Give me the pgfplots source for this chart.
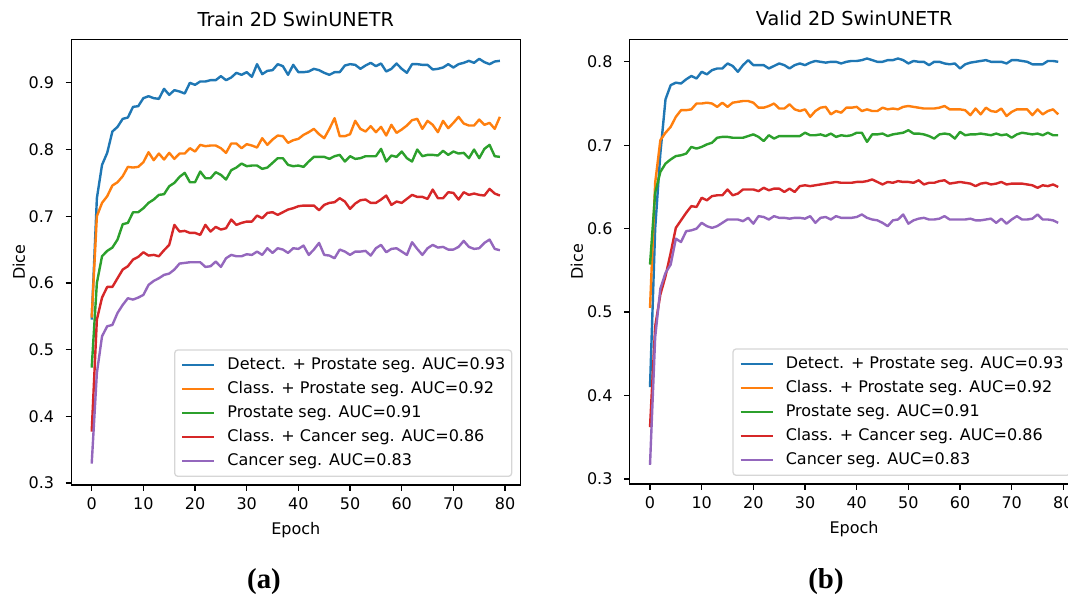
\documentclass[border=0pt]{standalone}
\usepackage{fontspec}
\setmainfont{DejaVu Sans}
\newfontfamily\capfont{Liberation Serif}
\usepackage{pgfplots}
\usepackage{pgfplotstable}
\pgfplotsset{compat=1.18}

\definecolor{c0}{HTML}{1F77B4}
\definecolor{c1}{HTML}{FF7F0E}
\definecolor{c2}{HTML}{2CA02C}
\definecolor{c3}{HTML}{D62728}
\definecolor{c4}{HTML}{9467BD}

% train curves: epoch, detect+prostate, class+prostate, prostate, class+cancer, cancer
\pgfplotstableread{
e det cls pro ccs can
0 0.545 0.548 0.473 0.377 0.329
1 0.727 0.700 0.600 0.545 0.465
2 0.777 0.720 0.640 0.578 0.520
3 0.795 0.730 0.648 0.594 0.535
4 0.827 0.746 0.653 0.594 0.537
5 0.834 0.751 0.665 0.607 0.555
6 0.846 0.760 0.688 0.620 0.567
7 0.848 0.774 0.690 0.625 0.577
8 0.864 0.773 0.706 0.635 0.575
9 0.865 0.774 0.706 0.639 0.578
10 0.877 0.781 0.712 0.646 0.582
11 0.880 0.796 0.720 0.641 0.597
12 0.877 0.784 0.725 0.642 0.603
13 0.876 0.794 0.732 0.640 0.607
14 0.891 0.785 0.733 0.649 0.612
15 0.882 0.795 0.745 0.657 0.614
16 0.889 0.786 0.750 0.687 0.620
17 0.887 0.794 0.759 0.677 0.629
18 0.884 0.794 0.765 0.678 0.630
19 0.900 0.802 0.751 0.675 0.631
20 0.897 0.797 0.751 0.675 0.631
21 0.902 0.807 0.767 0.672 0.631
22 0.902 0.805 0.757 0.687 0.624
23 0.904 0.806 0.757 0.677 0.625
24 0.904 0.806 0.766 0.684 0.632
25 0.910 0.802 0.762 0.680 0.624
26 0.904 0.795 0.755 0.682 0.637
27 0.908 0.809 0.769 0.695 0.642
28 0.915 0.809 0.773 0.687 0.640
29 0.912 0.802 0.779 0.690 0.640
30 0.916 0.808 0.775 0.692 0.643
31 0.909 0.806 0.776 0.692 0.642
32 0.928 0.803 0.776 0.701 0.647
33 0.913 0.817 0.771 0.697 0.642
34 0.918 0.807 0.773 0.705 0.652
35 0.919 0.815 0.780 0.706 0.645
36 0.928 0.821 0.787 0.702 0.652
37 0.925 0.820 0.787 0.706 0.650
38 0.912 0.810 0.777 0.710 0.645
39 0.927 0.814 0.775 0.712 0.652
40 0.916 0.816 0.776 0.715 0.651
41 0.916 0.822 0.774 0.716 0.656
42 0.917 0.826 0.782 0.716 0.642
43 0.921 0.831 0.789 0.716 0.650
44 0.919 0.823 0.789 0.709 0.660
45 0.915 0.817 0.789 0.717 0.642
46 0.912 0.831 0.786 0.720 0.641
47 0.916 0.847 0.790 0.721 0.637
48 0.916 0.820 0.792 0.727 0.650
49 0.926 0.820 0.782 0.722 0.647
50 0.928 0.823 0.790 0.711 0.642
51 0.927 0.843 0.786 0.719 0.647
52 0.921 0.831 0.787 0.724 0.647
53 0.926 0.827 0.790 0.725 0.648
54 0.930 0.835 0.790 0.720 0.641
55 0.925 0.826 0.790 0.720 0.652
56 0.929 0.834 0.801 0.725 0.657
57 0.917 0.821 0.782 0.731 0.646
58 0.921 0.837 0.791 0.717 0.651
59 0.929 0.825 0.789 0.722 0.652
60 0.921 0.830 0.797 0.720 0.647
61 0.915 0.836 0.787 0.726 0.642
62 0.928 0.844 0.782 0.732 0.661
63 0.928 0.846 0.800 0.729 0.651
64 0.927 0.831 0.790 0.729 0.642
65 0.927 0.843 0.792 0.726 0.652
66 0.920 0.837 0.792 0.740 0.657
67 0.921 0.826 0.791 0.727 0.653
68 0.923 0.843 0.798 0.727 0.654
69 0.928 0.832 0.792 0.736 0.650
70 0.923 0.840 0.797 0.735 0.650
71 0.928 0.849 0.794 0.725 0.654
72 0.930 0.839 0.795 0.736 0.663
73 0.933 0.836 0.787 0.732 0.654
74 0.930 0.836 0.800 0.734 0.651
75 0.936 0.845 0.787 0.732 0.652
76 0.931 0.837 0.801 0.731 0.660
77 0.928 0.840 0.807 0.741 0.665
78 0.932 0.831 0.790 0.734 0.651
79 0.933 0.849 0.789 0.731 0.649
}\traintab

% validation curves, same columns
\pgfplotstableread{
e det cls pro ccs can
0 0.410 0.505 0.557 0.362 0.317
1 0.600 0.655 0.643 0.483 0.470
2 0.690 0.706 0.668 0.521 0.528
3 0.755 0.715 0.678 0.543 0.547
4 0.772 0.722 0.683 0.571 0.557
5 0.775 0.734 0.687 0.601 0.588
6 0.774 0.742 0.688 0.610 0.584
7 0.779 0.742 0.690 0.619 0.597
8 0.783 0.743 0.698 0.627 0.598
9 0.780 0.750 0.696 0.626 0.600
10 0.788 0.750 0.698 0.637 0.607
11 0.785 0.751 0.701 0.634 0.603
12 0.790 0.750 0.703 0.639 0.601
13 0.792 0.746 0.709 0.640 0.603
14 0.792 0.751 0.710 0.640 0.607
15 0.798 0.746 0.710 0.647 0.611
16 0.795 0.751 0.709 0.640 0.611
17 0.788 0.752 0.709 0.642 0.611
18 0.796 0.753 0.709 0.647 0.609
19 0.802 0.753 0.711 0.647 0.613
20 0.796 0.751 0.713 0.647 0.606
21 0.796 0.745 0.710 0.645 0.615
22 0.796 0.745 0.705 0.649 0.614
23 0.792 0.747 0.712 0.646 0.611
24 0.795 0.750 0.708 0.648 0.615
25 0.798 0.744 0.711 0.648 0.613
26 0.796 0.744 0.711 0.644 0.613
27 0.792 0.749 0.711 0.648 0.612
28 0.796 0.743 0.711 0.644 0.613
29 0.798 0.741 0.711 0.651 0.613
30 0.796 0.743 0.715 0.652 0.612
31 0.799 0.734 0.712 0.651 0.615
32 0.801 0.741 0.712 0.652 0.607
33 0.800 0.745 0.713 0.653 0.613
34 0.799 0.746 0.711 0.654 0.614
35 0.800 0.737 0.714 0.655 0.611
36 0.800 0.741 0.710 0.656 0.615
37 0.798 0.739 0.712 0.655 0.613
38 0.800 0.745 0.711 0.655 0.613
39 0.801 0.745 0.712 0.655 0.613
40 0.801 0.746 0.715 0.656 0.614
41 0.802 0.741 0.715 0.656 0.617
42 0.804 0.743 0.704 0.657 0.613
43 0.802 0.741 0.713 0.659 0.611
44 0.800 0.741 0.713 0.656 0.610
45 0.800 0.745 0.714 0.653 0.607
46 0.802 0.743 0.711 0.656 0.603
47 0.802 0.744 0.713 0.655 0.610
48 0.804 0.743 0.714 0.657 0.611
49 0.802 0.746 0.715 0.656 0.617
50 0.798 0.747 0.718 0.656 0.606
51 0.801 0.746 0.714 0.655 0.610
52 0.800 0.745 0.714 0.658 0.612
53 0.800 0.744 0.713 0.653 0.613
54 0.796 0.744 0.711 0.655 0.611
55 0.800 0.744 0.708 0.655 0.611
56 0.800 0.745 0.713 0.657 0.612
57 0.798 0.747 0.714 0.658 0.615
58 0.797 0.743 0.713 0.654 0.611
59 0.798 0.743 0.708 0.655 0.611
60 0.792 0.743 0.716 0.656 0.611
61 0.797 0.742 0.712 0.655 0.611
62 0.799 0.736 0.713 0.654 0.612
63 0.800 0.744 0.713 0.651 0.610
64 0.801 0.737 0.714 0.654 0.610
65 0.802 0.745 0.713 0.655 0.611
66 0.800 0.741 0.712 0.653 0.612
67 0.800 0.740 0.714 0.654 0.607
68 0.800 0.744 0.712 0.656 0.612
69 0.798 0.735 0.713 0.653 0.606
70 0.802 0.740 0.709 0.654 0.611
71 0.802 0.743 0.713 0.654 0.615
72 0.801 0.743 0.715 0.654 0.611
73 0.800 0.743 0.714 0.653 0.611
74 0.797 0.736 0.713 0.652 0.612
75 0.797 0.743 0.714 0.649 0.617
76 0.797 0.737 0.712 0.652 0.611
77 0.801 0.741 0.715 0.651 0.611
78 0.801 0.743 0.712 0.653 0.610
79 0.800 0.737 0.712 0.650 0.607
}\validtab

\pgfplotsset{
  swin/.style={
    scale only axis, width=280.63pt, anchor=south west,
    xmin=-3.95, xmax=82.95,
    xtick={0,10,20,30,40,50,60,70,80},
    axis line style={line width=0.8pt, black},
    tick style={line width=0.8pt, black},
    major tick length=3.5pt,
    tick align=outside, tick pos=left,
    tick label style={font=\fontsize{10}{12}\selectfont},
    /pgf/number format/assume math mode=true,
    yticklabel style={/pgf/number format/fixed, /pgf/number format/precision=1,
                      anchor=east, inner sep=0pt, xshift=-7pt},
    xticklabel style={anchor=north, inner sep=0pt, yshift=-4.5pt},
    title style={font=\fontsize{12}{14}\selectfont, at={(0.5,1)}, anchor=base, yshift=2.3pt},
    xlabel={Epoch}, ylabel={Dice},
    label style={font=\fontsize{10}{12}\selectfont},
    xlabel style={at={(axis description cs:0.5,0)}, anchor=base, yshift=-31pt},
    every axis plot/.append style={line width=1.5pt, line join=round, no markers},
    legend cell align=left,
    legend image code/.code={\draw[#1] (0pt,0pt) -- (20pt,0pt);},
    legend style={at={(1,0)}, anchor=south east, xshift=-5pt, yshift=5pt,
      font=\fontsize{10}{12}\selectfont,
      draw={rgb,255:red,214;green,214;blue,214}, line width=0.8pt,
      fill=white, fill opacity=0.8, text opacity=1, rounded corners=2pt,
      inner xsep=4pt, inner ysep=4.5pt, row sep=5pt,
      nodes={inner sep=0pt, text height=7.5pt, text depth=2.5pt},
      /tikz/column 2/.style={column sep=0pt},
      /tikz/every odd column/.style={column sep=7.5pt}},
  }
}

\begin{document}
\begin{tikzpicture}
\useasboundingbox (0,0) rectangle (667.5pt,373.125pt);

\begin{axis}[swin, at={(44.56pt,70pt)}, height=278.44pt,
  ymin=0.297, ymax=0.965, ytick={0.3,0.4,0.5,0.6,0.7,0.8,0.9},
  title={Train 2D SwinUNETR},
  ylabel style={at={(axis description cs:-0.1035,0.5)}, anchor=base}]
\addplot[c0] table[x=e, y=det] {\traintab};
\addplot[c1] table[x=e, y=cls] {\traintab};
\addplot[c2] table[x=e, y=pro] {\traintab};
\addplot[c3] table[x=e, y=ccs] {\traintab};
\addplot[c4] table[x=e, y=can] {\traintab};
\legend{Detect. + Prostate seg. AUC=0.93, Class. + Prostate seg. AUC=0.92,
  Prostate seg. AUC=0.91, Class. + Cancer seg. AUC=0.86, Cancer seg. AUC=0.83}
\end{axis}

\begin{axis}[swin, at={(393.5pt,70.63pt)}, height=277.94pt,
  ymin=0.294, ymax=0.827, ytick={0.3,0.4,0.5,0.6,0.7,0.8},
  title={Valid 2D SwinUNETR},
  ylabel style={at={(axis description cs:-0.104,0.5)}, anchor=base}]
\addplot[c0] table[x=e, y=det] {\validtab};
\addplot[c1] table[x=e, y=cls] {\validtab};
\addplot[c2] table[x=e, y=pro] {\validtab};
\addplot[c3] table[x=e, y=ccs] {\validtab};
\addplot[c4] table[x=e, y=can] {\validtab};
\legend{Detect. + Prostate seg. AUC=0.93, Class. + Prostate seg. AUC=0.92,
  Prostate seg. AUC=0.91, Class. + Cancer seg. AUC=0.86, Cancer seg. AUC=0.83}
\end{axis}

\node[anchor=base, font=\capfont\fontsize{18}{20}\selectfont\bfseries] at (165pt,5.6pt) {(a)};
\node[anchor=base, font=\capfont\fontsize{18}{20}\selectfont\bfseries] at (516.25pt,5.6pt) {(b)};
\end{tikzpicture}
\end{document}
